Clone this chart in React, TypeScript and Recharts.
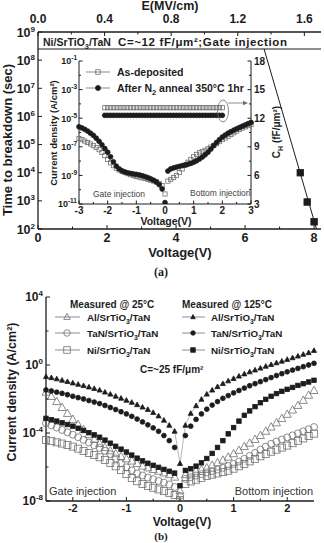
import React from 'react'
import { ComposedChart, Line, XAxis, YAxis } from 'recharts'

const FONT = '"Liberation Sans", Arial, Helvetica, sans-serif'
const INK = '#1c1c1c'
const GREY = '#707070'

// (a) time to breakdown vs. stress voltage
const tbdVolt = [7.6, 7.8, 8.0]
const tbdSec = [1.0e4, 9.1e2, 1.8e2]
const fitVolt = [6.55, 8.07]
const fitSec = [2.5e8, 1.0e2]
const mainVoltTicks = [0, 1, 2, 3, 4, 5, 6, 7, 8]
const fieldTicks = [0, 0.2, 0.4, 0.6, 0.8, 1.0, 1.2, 1.4, 1.6]
const tbdTicks = [1e2, 1e3, 1e4, 1e5, 1e6, 1e7, 1e8, 1e9]

// (a) inset: J-V (log10 A/cm2) and C-V
const insetVolt = [
  -3.0, -2.9, -2.8, -2.7, -2.6, -2.5, -2.4, -2.3, -2.2, -2.1, -2.0, -1.9, -1.8, -1.7, -1.6, -1.5,
  -1.4, -1.3, -1.2, -1.1, -1.0, -0.9, -0.8, -0.7, -0.6, -0.5, -0.4, -0.3, -0.2, -0.1, 0.0,
  0.1, 0.2, 0.3, 0.4, 0.5, 0.6, 0.7, 0.8, 0.9, 1.0, 1.1, 1.2, 1.3, 1.4, 1.5,
  1.6, 1.7, 1.8, 1.9, 2.0, 2.1, 2.2, 2.3, 2.4, 2.5, 2.6, 2.7, 2.8, 2.9, 3.0,
]
const asDepLog = [
  -6.42, -6.5, -6.6, -6.7, -6.8, -6.92, -7.05, -7.2, -7.4, -7.62, -7.88, -8.12, -8.32, -8.5, -8.62, -8.72,
  -8.8, -8.88, -8.95, -9.02, -9.08, -9.12, -9.17, -9.22, -9.27, -9.33, -9.39, -9.46, -9.56, -9.72, -10.3,
  -9.4, -9.28, -9.15, -9.0, -8.8, -8.55, -8.3, -8.08, -7.88, -7.7, -7.53, -7.42, -7.33, -7.24, -7.14,
  -7.02, -6.9, -6.78, -6.64, -6.5, -6.38, -6.26, -6.14, -6.02, -5.9, -5.78, -5.68, -5.6, -5.52, -5.45,
]
const annealLog = [
  -5.6, -5.68, -5.78, -5.9, -6.05, -6.2, -6.4, -6.62, -6.86, -7.12, -7.38, -7.7, -8.05, -8.35, -8.55, -8.68,
  -8.76, -8.82, -8.86, -8.9, -8.93, -8.97, -9.02, -9.08, -9.15, -9.24, -9.34, -9.46, -9.65, -9.95, -10.9,
  -8.7, -8.55, -8.48, -8.42, -8.37, -8.32, -8.27, -8.22, -8.16, -8.08, -7.98, -7.86, -7.72, -7.56, -7.38,
  -7.16, -6.92, -6.7, -6.5, -6.32, -6.18, -6.05, -5.94, -5.84, -5.74, -5.65, -5.56, -5.47, -5.38, -5.3,
]
const capVolt = [
  -2.1, -2.0, -1.9, -1.8, -1.7, -1.6, -1.5, -1.4, -1.3, -1.2, -1.1, -1.0, -0.9, -0.8, -0.7, -0.6, -0.5,
  -0.4, -0.3, -0.2, -0.1, 0.0, 0.1, 0.2, 0.3, 0.4, 0.5, 0.6, 0.7, 0.8, 0.9, 1.0, 1.1, 1.2, 1.3, 1.4,
  1.5, 1.6, 1.7, 1.8, 1.9, 2.0,
]
const capAsDep = [
  13.1, 13.1, 13.1, 13.1, 13.1, 13.1, 13.1, 13.1, 13.1, 13.1, 13.1, 13.1, 13.1, 13.1, 13.1, 13.1, 13.1,
  13.1, 13.1, 13.1, 13.1, 13.1, 13.1, 13.1, 13.1, 13.1, 13.1, 13.1, 13.1, 13.1, 13.1, 13.1, 13.1, 13.1,
  13.1, 13.1, 13.1, 13.1, 13.1, 13.1, 13.1, 13.1,
]
const capAnneal = [
  12.3, 12.3, 12.3, 12.3, 12.3, 12.3, 12.3, 12.3, 12.3, 12.3, 12.3, 12.3, 12.3, 12.3, 12.3, 12.3, 12.3,
  12.3, 12.3, 12.3, 12.3, 12.3, 12.3, 12.3, 12.3, 12.3, 12.3, 12.3, 12.3, 12.3, 12.3, 12.3, 12.3, 12.3,
  12.3, 12.3, 12.3, 12.3, 12.3, 12.3, 12.3, 12.3,
]
const insetVoltTicks = [-3, -2.5, -2, -1.5, -1, -0.5, 0, 0.5, 1, 1.5, 2, 2.5, 3]
const insetJTicks = [1e-11, 1e-10, 1e-9, 1e-8, 1e-7, 1e-6, 1e-5, 1e-4, 1e-3, 1e-2, 1e-1]
const insetCTicks = [3, 4.5, 6, 7.5, 9, 10.5, 12, 13.5, 15, 16.5, 18]

// (b) J-V at 25 C and 125 C for three gate metals (log10 A/cm2)
const biasVolt = [
  -2.5, -2.4, -2.3, -2.2, -2.1, -2.0, -1.9, -1.8, -1.7, -1.6, -1.5, -1.4, -1.3, -1.2, -1.1, -1.0,
  -0.9, -0.8, -0.7, -0.6, -0.5, -0.4, -0.3, -0.2, -0.1, 0.0,
  0.1, 0.2, 0.3, 0.4, 0.5, 0.6, 0.7, 0.8, 0.9, 1.0, 1.1, 1.2, 1.3, 1.4, 1.5,
  1.6, 1.7, 1.8, 1.9, 2.0, 2.1, 2.2, 2.3, 2.4, 2.5,
]
const al25Log = [
  -1.6, -1.85, -2.15, -2.5, -2.85, -3.2, -3.5, -3.8, -4.1, -4.38, -4.62, -4.85, -5.05, -5.22, -5.38, -5.52,
  -5.65, -5.8, -5.95, -6.05, -6.15, -6.25, -6.35, -6.45, -6.6, -7.4,
  -6.45, -6.35, -6.25, -6.15, -6.05, -5.9, -5.75, -5.6, -5.42, -5.22, -5.02, -4.8, -4.6, -4.38, -4.15,
  -3.9, -3.65, -3.4, -3.15, -2.9, -2.65, -2.38, -2.08, -1.78, -1.5,
]
const tan25Log = [
  -3.43, -3.55, -3.68, -3.82, -3.96, -4.1, -4.25, -4.4, -4.56, -4.72, -4.88, -5.05, -5.25, -5.5, -5.78, -6.02,
  -6.2, -6.38, -6.5, -6.62, -6.72, -6.82, -6.92, -7.03, -7.18, -7.7,
  -6.7, -6.6, -6.5, -6.42, -6.32, -6.24, -6.15, -6.05, -5.94, -5.82, -5.68, -5.52, -5.35, -5.17, -4.98,
  -4.8, -4.64, -4.5, -4.38, -4.26, -4.14, -4.02, -3.9, -3.78, -3.65,
]
const ni25Log = [
  -4.41, -4.48, -4.55, -4.62, -4.7, -4.8, -4.92, -5.05, -5.18, -5.3, -5.43, -5.58, -5.76, -5.96, -6.18, -6.42,
  -6.64, -6.84, -7.0, -7.12, -7.22, -7.32, -7.42, -7.52, -7.65, -7.95,
  -7.0, -6.85, -6.75, -6.65, -6.52, -6.45, -6.38, -6.3, -6.22, -6.1, -5.96, -5.82, -5.67, -5.52, -5.37,
  -5.23, -5.1, -4.98, -4.86, -4.74, -4.6, -4.46, -4.32, -4.18, -4.04,
]
const al125Log = [
  -0.69, -0.75, -0.82, -0.9, -0.98, -1.06, -1.14, -1.22, -1.3, -1.39, -1.48, -1.6, -1.72, -1.84, -1.96, -2.08,
  -2.2, -2.34, -2.48, -2.62, -2.8, -3.0, -3.25, -3.55, -3.9, -5.8,
  -3.55, -2.85, -2.4, -2.02, -1.72, -1.48, -1.28, -1.1, -0.94, -0.8, -0.66, -0.53, -0.41, -0.3, -0.19,
  -0.08, 0.02, 0.12, 0.22, 0.32, 0.42, 0.52, 0.62, 0.72, 0.85,
]
const tan125Log = [
  -1.47, -1.53, -1.6, -1.67, -1.75, -1.84, -1.92, -2.0, -2.09, -2.18, -2.27, -2.38, -2.5, -2.62, -2.75, -2.88,
  -3.02, -3.18, -3.35, -3.52, -3.7, -3.9, -4.15, -4.45, -4.85, null,
  -4.15, -3.6, -3.2, -2.88, -2.6, -2.36, -2.15, -1.96, -1.8, -1.64, -1.5, -1.36, -1.22, -1.1, -0.98,
  -0.86, -0.74, -0.62, -0.51, -0.4, -0.3, -0.2, -0.1, 0.0, 0.1,
]
const ni125Log = [
  -3.14, -3.22, -3.3, -3.4, -3.5, -3.6, -3.72, -3.85, -3.98, -4.11, -4.25, -4.42, -4.6, -4.78, -4.95, -5.12,
  -5.3, -5.48, -5.64, -5.78, -5.9, -6.02, -6.14, -6.25, -6.36, -7.1,
  -6.2, -6.1, -5.95, -5.75, -5.5, -5.2, -4.85, -4.45, -4.05, -3.68, -3.3, -2.96, -2.7, -2.45, -2.22,
  -2.02, -1.84, -1.68, -1.55, -1.43, -1.32, -1.2, -1.1, -1.0, -0.9,
]
const biasTicks = [-2, -1.5, -1, -0.5, 0, 0.5, 1, 1.5, 2]
const biasJTicks = [1e-8, 1e-6, 1e-4, 1e-2, 1e0, 1e2, 1e4]

const exp10 = (x: number | null) => (x == null ? null : Math.pow(10, x))

const fitRows = fitVolt.map((v, i) => ({ v, t: fitSec[i] }))
const tbdRows = tbdVolt.map((v, i) => ({ v, t: tbdSec[i] }))
// carries no marks: gives the field axis something to scale against
const fieldRows = fieldTicks.map((e) => ({ e, t: null }))
const insetRows = insetVolt.map((v, i) => ({ v, asDep: exp10(asDepLog[i]), anneal: exp10(annealLog[i]) }))
const capRows = capVolt.map((v, i) => ({ v, asDep: capAsDep[i], anneal: capAnneal[i] }))
const biasRows = biasVolt.map((v, i) => ({
  v,
  al25: exp10(al25Log[i]),
  tan25: exp10(tan25Log[i]),
  ni25: exp10(ni25Log[i]),
  al125: exp10(al125Log[i]),
  tan125: exp10(tan125Log[i]),
  ni125: exp10(ni125Log[i]),
}))

type Shape = 'square' | 'circle' | 'triangle'

function markerAt(shape: Shape, cx: number, cy: number, size: number, filled: boolean, color: string, key: string) {
  const h = size / 2
  const fill = filled ? color : 'none'
  if (shape === 'square')
    return <rect key={key} x={cx - h} y={cy - h} width={size} height={size} fill={fill} stroke={color} strokeWidth={0.8} />
  if (shape === 'circle') return <circle key={key} cx={cx} cy={cy} r={h} fill={fill} stroke={color} strokeWidth={0.8} />
  return (
    <path
      key={key}
      d={`M${cx},${cy - h * 1.1}L${cx + h},${cy + h * 0.75}L${cx - h},${cy + h * 0.75}Z`}
      fill={fill}
      stroke={color}
      strokeWidth={0.8}
    />
  )
}

const dotOf = (shape: Shape, size: number, filled: boolean, color: string) => (p: any) => {
  const { cx, cy, index } = p
  if (cx == null || cy == null || Number.isNaN(cy)) return <g key={`n${index}`} />
  return markerAt(shape, cx, cy, size, filled, color, `d${index}`)
}

type Side = 'left' | 'right' | 'top' | 'bottom'
interface TickOpts {
  side: Side
  major: (v: number) => boolean
  label: (v: number) => React.ReactNode
  size: number
  gap: number
  shift?: number
  len?: number
  minor?: number
}

// ticks point into the plot; labels only on major ticks
function inwardTick(o: TickOpts) {
  const len = o.len ?? 4
  const minor = o.minor ?? 2.5
  return (p: any) => {
    const { x, y, payload, index } = p
    const v = payload.value
    const big = o.major(v)
    const l = big ? len : minor
    let seg = [x, y, x, y - l]
    let tx = x
    let ty = y
    let anchor = 'middle'
    if (o.side === 'bottom') {
      ty = y + o.gap
    } else if (o.side === 'top') {
      seg = [x, y, x, y + l]
      ty = y - o.gap
    } else if (o.side === 'left') {
      seg = [x, y, x + l, y]
      tx = x - o.gap
      ty = y + (o.shift ?? 0)
      anchor = 'end'
    } else {
      seg = [x, y, x - l, y]
      tx = x + o.gap
      ty = y + (o.shift ?? 0)
      anchor = 'start'
    }
    return (
      <g key={`t${index}`}>
        <line x1={seg[0]} y1={seg[1]} x2={seg[2]} y2={seg[3]} stroke={INK} strokeWidth={1} />
        {big && (
          <text x={tx} y={ty} textAnchor={anchor} fontFamily={FONT} fontWeight="bold" fontSize={o.size} fill={INK}>
            {o.label(v)}
          </text>
        )}
      </g>
    )
  }
}

const powLabel = (sup: number, rise: number) => (v: number) => {
  const e = Math.round(Math.log10(v))
  return [
    <tspan key="b">10</tspan>,
    <tspan key="e" dy={-rise} fontSize={sup}>
      {e}
    </tspan>,
  ]
}
const everyDecade = (step: number) => (v: number) => Math.round(Math.log10(v)) % step === 0
const multipleOf = (step: number) => (v: number) => Math.abs(v / step - Math.round(v / step)) < 1e-6
const oddDecade = (v: number) => Math.abs(Math.round(Math.log10(v))) % 2 === 1

const frame = { stroke: INK, strokeWidth: 1.3 }
const noTick = { tick: false as const, tickLine: false }

function SrTiO({ pre, size }: { pre: string; size: number }) {
  return (
    <>
      <tspan>{pre}/SrTiO</tspan>
      <tspan dy={size * 0.3} fontSize={size * 0.7}>
        3
      </tspan>
      <tspan dy={-size * 0.3}>/TaN</tspan>
    </>
  )
}

function Overlay() {
  const bold = { fontFamily: FONT, fontWeight: 'bold' as const, fill: INK }
  const legendB: [Shape, string][] = [
    ['triangle', 'Al'],
    ['circle', 'TaN'],
    ['square', 'Ni'],
  ]
  const rowsB = [317, 333, 350]
  return (
    <svg width={324} height={543} style={{ position: 'absolute', left: 0, top: 0, pointerEvents: 'none' }}>
      {/* (a) titles */}
      <text x={170} y={10} textAnchor="middle" fontSize={12.5} {...bold}>
        E(MV/cm)
      </text>
      <line x1={38} y1={49} x2={321} y2={49} stroke={INK} strokeWidth={1.1} />
      <text x={43} y={46} fontSize={10.5} {...bold}>
        <SrTiO pre="Ni" size={10.5} />
      </text>
      <text x={118} y={46} fontSize={11.5} textLength={169} lengthAdjust="spacing" {...bold}>
        C=~12 fF/μm²;Gate injection
      </text>
      <text x={180} y={257} textAnchor="middle" fontSize={13} {...bold}>
        Voltage(V)
      </text>
      <text x={161} y={276} textAnchor="middle" fontSize={12} fontFamily="'Liberation Serif', serif" fontWeight="bold" fill={INK}>
        (a)
      </text>
      <text x={12} y={140} textAnchor="middle" fontSize={13} transform="rotate(-90 12 140)" {...bold}>
        Time to breakdown (sec)
      </text>

      {/* inset labels and legend */}
      <line x1={86} y1={72} x2={110} y2={72} stroke={GREY} strokeWidth={0.8} />
      {markerAt('square', 98, 72, 4.5, false, GREY, 'l1')}
      <text x={117} y={76} fontSize={10.5} {...bold}>
        As-deposited
      </text>
      <line x1={86} y1={88} x2={110} y2={88} stroke={GREY} strokeWidth={0.8} />
      {markerAt('circle', 98, 88, 5, true, INK, 'l2')}
      <text x={117} y={92} fontSize={10.5} {...bold}>
        After N<tspan dy={3} fontSize={7.5}>2</tspan>
        <tspan dy={-3}> anneal 350°C 1hr</tspan>
      </text>
      <text x={57} y={133} textAnchor="middle" fontSize={9.5} transform="rotate(-90 57 133)" {...bold}>
        Current density (A/cm²)
      </text>
      <text x={280} y={132} textAnchor="middle" fontSize={10} transform="rotate(-90 280 132)" {...bold}>
        C<tspan dy={3} fontSize={7}>H</tspan>
        <tspan dy={-3}> (fF/μm²)</tspan>
      </text>
      <text x={166} y={225} textAnchor="middle" fontSize={10.5} {...bold}>
        Voltage(V)
      </text>
      <text x={93} y={197} fontSize={8.5} fontFamily={FONT} fill="#444">
        Gate injection
      </text>
      <text x={190} y={196} fontSize={8.5} fontFamily={FONT} fill="#444">
        Bottom injection
      </text>
      <ellipse cx={223} cy={111} rx={5.5} ry={11} fill="none" stroke={GREY} strokeWidth={0.8} />
      <line x1={228} y1={103} x2={245} y2={103} stroke={GREY} strokeWidth={0.8} />
      <path d="M248,103 L243,100.8 L243,105.2 Z" fill={GREY} />

      {/* (b) labels and legend */}
      <text x={16} y={392} textAnchor="middle" fontSize={12.5} transform="rotate(-90 16 392)" {...bold}>
        Current density (A/cm²)
      </text>
      <text x={182} y={526} textAnchor="middle" fontSize={12} {...bold}>
        Voltage(V)
      </text>
      <text x={161} y={540} textAnchor="middle" fontSize={11} fontFamily="'Liberation Serif', serif" fontWeight="bold" fill={INK}>
        (b)
      </text>
      <text x={70} y={308} fontSize={10} {...bold}>
        Measured @ 25°C
      </text>
      <text x={182} y={308} fontSize={10} {...bold}>
        Measured @ 125°C
      </text>
      {legendB.map(([shape, metal], i) => (
        <g key={metal}>
          <line x1={55} y1={rowsB[i]} x2={80} y2={rowsB[i]} stroke={GREY} strokeWidth={0.8} />
          {markerAt(shape, 67, rowsB[i], 6.5, false, GREY, `a${i}`)}
          <text x={87} y={rowsB[i] + 4} fontSize={9.8} {...bold}>
            <SrTiO pre={metal} size={9.8} />
          </text>
          <line x1={182} y1={rowsB[i]} x2={205} y2={rowsB[i]} stroke={GREY} strokeWidth={0.8} />
          {markerAt(shape, 193, rowsB[i], 4.5, true, INK, `b${i}`)}
          <text x={211} y={rowsB[i] + 4} fontSize={9.8} {...bold}>
            <SrTiO pre={metal} size={9.8} />
          </text>
        </g>
      ))}
      <text x={140} y={373} fontSize={10} {...bold}>
        C=~25 fF/μm²
      </text>
      <text x={49} y={495} fontSize={11} fontFamily={FONT} fill="#333">
        Gate injection
      </text>
      <text x={313} y={495} textAnchor="end" fontSize={11} fontFamily={FONT} fill="#333">
        Bottom injection
      </text>
    </svg>
  )
}

export default function App() {
  const bare = { stroke: 'none', isAnimationActive: false, connectNulls: false }
  return (
    <div style={{ position: 'absolute', left: 0, top: 0, width: 324, height: 543, background: '#fff', overflow: 'hidden' }}>
      {/* (a) main */}
      <div style={{ position: 'absolute', left: 0, top: 0 }}>
        <ComposedChart width={324} height={290} margin={{ top: 0, right: 3, bottom: 0, left: 0 }}>
          <XAxis
            xAxisId="v"
            dataKey="v"
            type="number"
            domain={[0, 8.2]}
            ticks={mainVoltTicks}
            interval={0}
            height={61}
            tickSize={0}
            tickMargin={0}
            tickLine={false}
            axisLine={frame}
            tick={inwardTick({ side: 'bottom', major: multipleOf(2), label: (v) => v, size: 12.5, gap: 13 })}
          />
          <XAxis
            xAxisId="e"
            dataKey="e"
            orientation="top"
            type="number"
            domain={[0, 1.7]}
            allowDataOverflow
            ticks={fieldTicks}
            interval={0}
            height={32}
            tickSize={0}
            tickMargin={0}
            tickLine={false}
            axisLine={frame}
            tick={inwardTick({ side: 'top', major: multipleOf(0.4), label: (v) => v.toFixed(1), size: 12, gap: 9 })}
          />
          <YAxis
            yAxisId="t"
            type="number"
            scale="log"
            domain={[1e2, 1e9]}
            allowDataOverflow
            ticks={tbdTicks}
            interval={0}
            width={38}
            tickSize={0}
            tickMargin={0}
            tickLine={false}
            axisLine={frame}
            tick={inwardTick({ side: 'left', major: () => true, label: powLabel(8, 5), size: 12.5, gap: 3, shift: 4.5 })}
          />
          <YAxis yAxisId="r" orientation="right" type="number" domain={[0, 1]} width={0} axisLine={frame} {...noTick} />
          <Line xAxisId="e" yAxisId="t" data={fieldRows} dataKey="t" dot={false} {...bare} />
          <Line xAxisId="v" yAxisId="t" data={fitRows} dataKey="t" stroke={INK} strokeWidth={1} dot={false} isAnimationActive={false} />
          <Line xAxisId="v" yAxisId="t" data={tbdRows} dataKey="t" dot={dotOf('square', 6.5, true, INK)} {...bare} />
        </ComposedChart>
      </div>

      {/* (a) inset */}
      <div style={{ position: 'absolute', left: 40, top: 50 }}>
        <ComposedChart width={240} height={180} margin={{ top: 11, right: 0, bottom: 0, left: 0 }}>
          <XAxis
            xAxisId="v"
            dataKey="v"
            type="number"
            domain={[-3, 3]}
            ticks={insetVoltTicks}
            interval={0}
            height={26}
            tickSize={0}
            tickMargin={0}
            tickLine={false}
            axisLine={{ stroke: INK, strokeWidth: 1 }}
            tick={inwardTick({ side: 'bottom', major: multipleOf(1), label: (v) => v, size: 10, gap: 10, len: 3.5, minor: 2 })}
          />
          <XAxis xAxisId="top" orientation="top" type="number" domain={[0, 1]} height={0} axisLine={{ stroke: INK, strokeWidth: 1 }} {...noTick} />
          <YAxis
            yAxisId="j"
            type="number"
            scale="log"
            domain={[1e-11, 1e-1]}
            allowDataOverflow
            ticks={insetJTicks}
            interval={0}
            width={39}
            tickSize={0}
            tickMargin={0}
            tickLine={false}
            axisLine={{ stroke: INK, strokeWidth: 1 }}
            tick={inwardTick({ side: 'left', major: oddDecade, label: powLabel(6.5, 4), size: 9, gap: 2, shift: 3.3, len: 3.5, minor: 2 })}
          />
          <YAxis
            yAxisId="c"
            orientation="right"
            type="number"
            domain={[3, 18]}
            ticks={insetCTicks}
            interval={0}
            width={29}
            tickSize={0}
            tickMargin={0}
            tickLine={false}
            axisLine={{ stroke: INK, strokeWidth: 1 }}
            tick={inwardTick({ side: 'right', major: multipleOf(3), label: (v) => v, size: 10, gap: 3, shift: 3.6, len: 3.5, minor: 2 })}
          />
          <Line xAxisId="v" yAxisId="j" data={insetRows} dataKey="asDep" {...bare} dot={dotOf('square', 4.2, false, GREY)} />
          <Line xAxisId="v" yAxisId="j" data={insetRows} dataKey="anneal" {...bare} dot={dotOf('circle', 4.8, true, INK)} />
          <Line xAxisId="v" yAxisId="c" data={capRows} dataKey="asDep" {...bare} dot={dotOf('square', 4.2, false, GREY)} />
          <Line xAxisId="v" yAxisId="c" data={capRows} dataKey="anneal" {...bare} dot={dotOf('circle', 4.8, true, INK)} />
        </ComposedChart>
      </div>

      {/* (b) */}
      <div style={{ position: 'absolute', left: 0, top: 285 }}>
        <ComposedChart width={324} height={258} data={biasRows} margin={{ top: 12, right: 10, bottom: 0, left: 0 }}>
          <XAxis
            xAxisId="v"
            dataKey="v"
            type="number"
            domain={[-2.5, 2.5]}
            ticks={biasTicks}
            interval={0}
            height={42}
            tickSize={0}
            tickMargin={0}
            tickLine={false}
            axisLine={frame}
            tick={inwardTick({ side: 'bottom', major: multipleOf(1), label: (v) => v, size: 11, gap: 11 })}
          />
          <XAxis xAxisId="top" orientation="top" type="number" domain={[0, 1]} height={0} axisLine={frame} {...noTick} />
          <YAxis
            yAxisId="j"
            type="number"
            scale="log"
            domain={[1e-8, 1e4]}
            allowDataOverflow
            ticks={biasJTicks}
            interval={0}
            width={46}
            tickSize={0}
            tickMargin={0}
            tickLine={false}
            axisLine={frame}
            tick={inwardTick({ side: 'left', major: everyDecade(4), label: powLabel(8, 5), size: 12, gap: 3, shift: 4.3 })}
          />
          <YAxis yAxisId="r" orientation="right" type="number" domain={[0, 1]} width={0} axisLine={frame} {...noTick} />
          <Line xAxisId="v" yAxisId="j" dataKey="ni25" {...bare} dot={dotOf('square', 7, false, GREY)} />
          <Line xAxisId="v" yAxisId="j" dataKey="tan25" {...bare} dot={dotOf('circle', 7, false, GREY)} />
          <Line xAxisId="v" yAxisId="j" dataKey="al25" {...bare} dot={dotOf('triangle', 8, false, GREY)} />
          <Line xAxisId="v" yAxisId="j" dataKey="ni125" {...bare} dot={dotOf('square', 4.5, true, INK)} />
          <Line xAxisId="v" yAxisId="j" dataKey="tan125" {...bare} dot={dotOf('circle', 4.8, true, INK)} />
          <Line
            xAxisId="v"
            yAxisId="j"
            dataKey="al125"
            stroke="#8a8a8a"
            strokeWidth={0.6}
            isAnimationActive={false}
            dot={dotOf('triangle', 5, true, INK)}
          />
        </ComposedChart>
      </div>

      <Overlay />
    </div>
  )
}
